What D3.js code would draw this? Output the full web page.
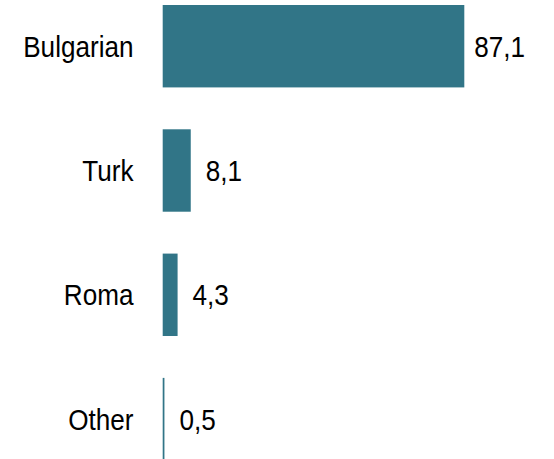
<!DOCTYPE html>
<html>
<head>
<meta charset="utf-8">
<script src="https://cdn.jsdelivr.net/npm/d3@7"></script>
<style>
  html, body { margin: 0; padding: 0; background: #fff; }
  svg text { font-family: "Liberation Sans Narrow", "Arial Narrow", "Liberation Sans", Arial, sans-serif; font-size: 30px; fill: #000; }
</style>
</head>
<body>
<svg id="chart" width="554" height="459"></svg>
<script>
// === Data ===
const groups = ['Bulgarian', 'Turk', 'Roma', 'Other'];
const shares = [87.1, 8.1, 4.3, 0.5];

const width = 554, height = 459;
const svg = d3.select('#chart');

const x = d3.scaleLinear()
    .domain([0, 87.1])
    .range([162.7, 464.3]);

const y = d3.scaleBand()
    .domain(groups)
    .range([5, 460.3])
    .paddingInner(0.337)
    .paddingOuter(0);

const data = groups.map((g, i) => ({ group: g, value: shares[i] }));

// squeeze the regular sans to look like a narrow face
function narrow(sel) {
    sel.each(function () {
        const w = this.getComputedTextLength();
        d3.select(this)
            .attr('textLength', w * 0.87)
            .attr('lengthAdjust', 'spacingAndGlyphs');
    });
}

// Bars
svg.append('g')
    .selectAll('rect')
    .data(data)
    .join('rect')
    .attr('x', x(0))
    .attr('y', d => y(d.group))
    .attr('width', d => Math.max(1.3, x(d.value) - x(0)))
    .attr('height', y.bandwidth())
    .attr('fill', '#317587');

// Category labels
svg.append('g')
    .selectAll('text')
    .data(data)
    .join('text')
    .attr('x', 133.5)
    .attr('y', d => y(d.group) + y.bandwidth() / 2)
    .attr('dy', '0.35em')
    .attr('text-anchor', 'end')
    .text(d => d.group)
    .call(narrow);

// Value labels (comma decimal)
svg.append('g')
    .selectAll('text')
    .data(data)
    .join('text')
    .attr('x', d => x(d.value) + (d.value > 50 ? 10 : 15))
    .attr('y', d => y(d.group) + y.bandwidth() / 2)
    .attr('dy', '0.35em')
    .text(d => d.value.toFixed(1).replace('.', ','))
    .call(narrow);
</script>
</body>
</html>
